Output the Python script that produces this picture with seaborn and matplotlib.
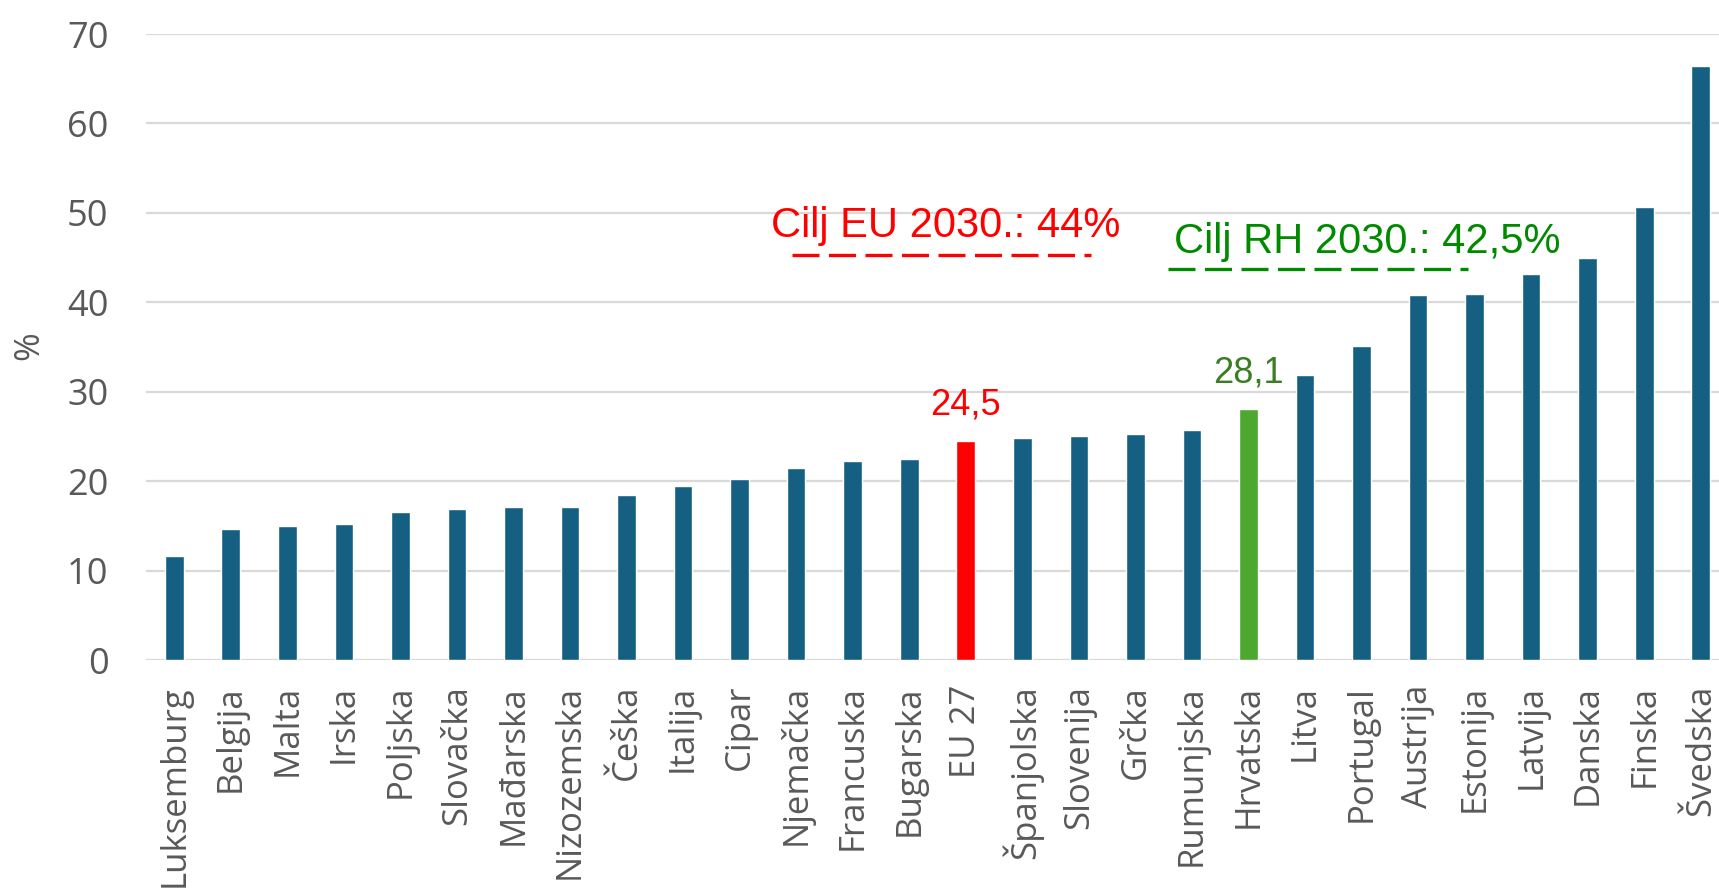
import matplotlib
matplotlib.use("Agg")
import matplotlib.pyplot as plt
import seaborn as sns
import pandas as pd

countries = ["Luksemburg", "Belgija", "Malta", "Irska", "Poljska", "Slovačka",
             "Mađarska", "Nizozemska", "Češka", "Italija", "Cipar", "Njemačka",
             "Francuska", "Bugarska", "EU 27", "Španjolska", "Slovenija", "Grčka",
             "Rumunjska", "Hrvatska", "Litva", "Portugal", "Austrija", "Estonija",
             "Latvija", "Danska", "Finska", "Švedska"]
values = [11.6, 14.6, 15.0, 15.2, 16.6, 16.9, 17.1, 17.1, 18.5, 19.5, 20.2, 21.5,
          22.2, 22.5, 24.5, 24.8, 25.0, 25.3, 25.7, 28.1, 31.9, 35.1, 40.8, 40.9,
          43.2, 44.9, 50.7, 66.4]
yticks = [0, 10, 20, 30, 40, 50, 60, 70]

eu_label = "Cilj EU 2030.: 44%"
rh_label = "Cilj RH 2030.: 42,5%"

BLUE = "#156082"
RED = "#FF0000"
GREEN_BAR = "#4EA72E"
GREEN_TXT = "#3B7D23"
GREEN_ANN = "#008A00"
GREY = "#595959"

palette = {c: BLUE for c in countries}
palette["EU 27"] = RED
palette["Hrvatska"] = GREEN_BAR

df = pd.DataFrame({"country": countries, "value": values})

sns.set_theme(style="white")
plt.rcParams["font.family"] = ["Open Sans", "DejaVu Sans"]

W, H = 1719, 892
fig = plt.figure(figsize=(W / 100, H / 100), dpi=100)
ax = fig.add_axes([146 / W, 1 - 660 / H, (1729 - 146) / W, (660 - 34) / H])

sns.barplot(data=df, x="country", y="value", hue="country", palette=palette,
            width=0.33, legend=False, ax=ax, saturation=1, zorder=3)

ax.set_xlim(-0.5, len(countries) - 0.5)
ax.set_ylim(0, 70)
ax.set_yticks(yticks)
ax.set_yticklabels([str(t) for t in yticks])
ax.yaxis.grid(True, color="#D9D9D9", linewidth=1.6, zorder=0)
ax.set_axisbelow(True)
for s in ax.spines.values():
    s.set_visible(False)

ax.tick_params(axis="y", length=0, pad=27, labelsize=26, labelcolor=GREY)
ax.tick_params(axis="x", length=0, pad=18, labelsize=25, labelcolor=GREY)
plt.setp(ax.get_xticklabels(), rotation=90)
ax.set_xlabel("")
ax.set_ylabel("%", fontsize=25, color=GREY)
ax.yaxis.set_label_coords((29 - 146) / (1729 - 146), (660 - 346) / (660 - 34))
ax.yaxis.label.set_verticalalignment("center")

# value labels
idx_eu = countries.index("EU 27")
idx_hr = countries.index("Hrvatska")
ax.annotate("24,5", (idx_eu, values[idx_eu]), xytext=(0, 19), textcoords="offset points",
            ha="center", va="baseline", fontsize=26, color=RED, family="Liberation Sans")
ax.annotate("28,1", (idx_hr, values[idx_hr]), xytext=(0, 19), textcoords="offset points",
            ha="center", va="baseline", fontsize=26, color=GREEN_TXT, family="Liberation Sans")

# target annotations
dash = (0, (8.1, 2.85))
ax.text(13.65, 47.3, eu_label, ha="center", va="baseline", fontsize=30, color=RED,
        family="Liberation Sans")
ax.plot([10.93, 16.21], [45.3, 45.3], color=RED, lw=2.4, linestyle=dash,
        dash_capstyle="butt", clip_on=False, zorder=4)
ax.text(21.1, 45.5, rh_label, ha="center", va="baseline", fontsize=30, color=GREEN_ANN,
        family="Liberation Sans")
ax.plot([17.57, 22.88], [43.7, 43.7], color=GREEN_ANN, lw=2.4, linestyle=dash,
        dash_capstyle="butt", clip_on=False, zorder=4)

fig.savefig("out.png", dpi=100)
